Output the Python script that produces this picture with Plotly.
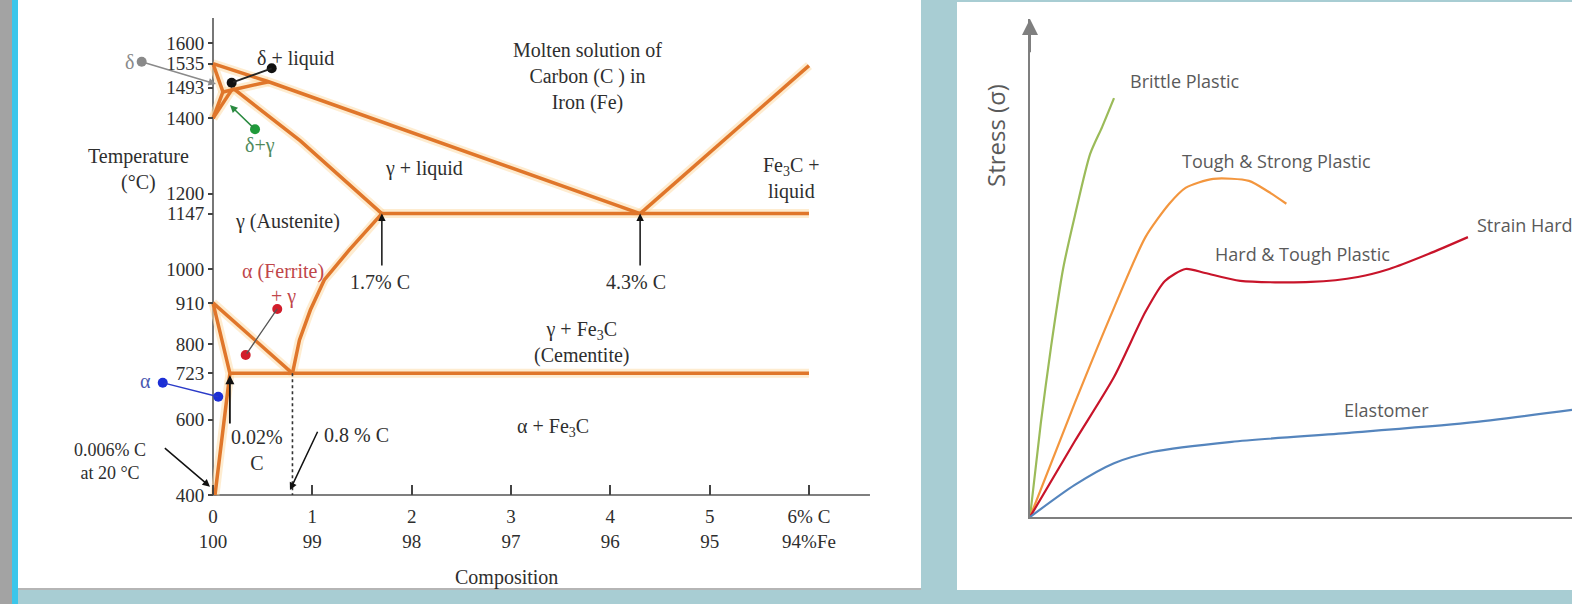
import plotly.graph_objects as go

W, H = 1572, 604

# ---------------- Left panel: Fe–C phase diagram ----------------
temp_tick_labels = ["400", "600", "723", "800", "910", "1000", "1147", "1200", "1400", "1493", "1535", "1600"]
temp_tick_pos = [400, 600, 723, 800, 910, 1000, 1147, 1200, 1400, 1481, 1545, 1600]  # as placed in the picture
comp_ticks = [0, 1, 2, 3, 4, 5, 6]
comp_ticktext = ["0<br>100", "1<br>99", "2<br>98", "3<br>97", "4<br>96", "5<br>95", "6% C<br>94%Fe"]

temp_axis_x = [0, 0]
temp_axis_y = [400, 1666]
comp_axis_x = [0, 6.614]
comp_axis_y = [400, 400]

liquidus_x = [0, 0.56, 4.3]
liquidus_y = [1545, 1497, 1147]
delta_solidus_x = [0, 0.1]
delta_solidus_y = [1545, 1470]
peritectic_x = [0.1, 0.56]
peritectic_y = [1470, 1497]
delta_low_x = [0, 0.1]
delta_low_y = [1400, 1470]
gamma_delta_x = [0, 0.2]
gamma_delta_y = [1400, 1480]
gamma_solidus_x = [0.2, 0.88, 1.7]
gamma_solidus_y = [1480, 1340, 1147]
eutectic_x = [1.7, 6]
eutectic_y = [1147, 1147]
fe3c_liquidus_x = [4.3, 6]
fe3c_liquidus_y = [1147, 1540]
acm_x = [1.7, 1.37, 1.12, 0.98, 0.87, 0.8]
acm_y = [1147, 1050, 971, 891, 811, 723]
a3_x = [0, 0.8]
a3_y = [910, 723]
ferrite_x = [0, 0.17, 0.02]
ferrite_y = [910, 723, 400]
eutectoid_x = [0.17, 6]
eutectoid_y = [723, 723]

phase_lines = [
    (liquidus_x, liquidus_y), (delta_solidus_x, delta_solidus_y),
    (peritectic_x, peritectic_y), (delta_low_x, delta_low_y),
    (gamma_delta_x, gamma_delta_y), (gamma_solidus_x, gamma_solidus_y),
    (eutectic_x, eutectic_y), (fe3c_liquidus_x, fe3c_liquidus_y),
    (acm_x, acm_y), (a3_x, a3_y), (ferrite_x, ferrite_y),
    (eutectoid_x, eutectoid_y),
]

eutectoid_dash_x = [0.8, 0.8]
eutectoid_dash_y = [723, 400]

# marker dots (composition %C, temperature °C)
delta_dot = ([-0.718], [1550])
black_dots = ([0.188, 0.591], [1494.5, 1532.7])
green_dot = ([0.423], [1370.8])
red_dots = ([0.647, 0.329], [893.8, 771.6])
blue_dots = ([-0.506, 0.053], [698, 661])

# ---------------- Right panel: stress–strain curves ----------------
brittle_strain = [0, 2.0, 3.9, 6.1, 8.3, 11.1, 13.3, 15.5]
brittle_stress = [0, 18.9, 34.3, 49.8, 60.6, 72.9, 78.3, 84.1]
tough_strain = [0, 8.2, 15.5, 21.3, 25.7, 28.7, 33.8, 40.4, 44.0, 47.3]
tough_stress = [0, 22.7, 42.0, 56.2, 62.9, 66.1, 67.9, 67.5, 65.3, 62.9]
hard_strain = [0, 8.2, 15.5, 21.3, 24.9, 28.7, 32.3, 38.8, 51.8, 60.5, 66.3, 73.5, 80.8]
hard_stress = [0, 15.1, 28.1, 41.2, 47.4, 49.8, 49.0, 47.4, 47.2, 48.2, 49.8, 52.8, 56.2]
elast_strain = [0, 8.2, 15.5, 22.7, 37.2, 58.9, 80.6, 100]
elast_stress = [0, 6.4, 10.8, 13.1, 15.1, 16.9, 18.9, 21.5]

# ---------------- Figure ----------------
def px(x):
    return x / W

def py(y):
    return 1 - y / H

TEAL = "#a8cdd3"
ORANGE = "#e0762a"
SERIF = "Liberation Serif"
SANS = "Open Sans"
TXT = "#2e2e2e"

fig = go.Figure()

# axis lines of the phase diagram
for xs, ys in [(temp_axis_x, temp_axis_y), (comp_axis_x, comp_axis_y)]:
    fig.add_trace(go.Scatter(x=xs, y=ys, mode="lines", xaxis="x", yaxis="y",
                             line=dict(color="#555", width=1.6), hoverinfo="skip",
                             showlegend=False))

for xs, ys in phase_lines:
    fig.add_trace(go.Scatter(x=xs, y=ys, mode="lines", xaxis="x", yaxis="y",
                             line=dict(color="rgba(253,220,170,0.55)", width=9),
                             hoverinfo="skip", showlegend=False))
for xs, ys in phase_lines:
    fig.add_trace(go.Scatter(x=xs, y=ys, mode="lines", xaxis="x", yaxis="y",
                             line=dict(color=ORANGE, width=3.5),
                             hoverinfo="skip", showlegend=False))

fig.add_trace(go.Scatter(x=eutectoid_dash_x, y=eutectoid_dash_y, mode="lines",
                         xaxis="x", yaxis="y", line=dict(color="#333", width=1.6, dash="dot"),
                         showlegend=False))

ann = []

def label(x, y, text, size=20, color=TXT, font=SERIF, xref="x", yref="y", **kw):
    kw.setdefault("xanchor", "center")
    kw.setdefault("yanchor", "middle")
    ann.append(dict(x=x, y=y, xref=xref, yref=yref, text=text, showarrow=False,
                    font=dict(family=font, size=size, color=color), **kw))

def arrow(x, y, ax, ay, color="#111", head=2, width=1.5, size=1.0):
    ann.append(dict(x=x, y=y, ax=ax, ay=ay, xref="x", yref="y", axref="x", ayref="y",
                    text="", showarrow=True, arrowhead=head, arrowsize=size,
                    arrowwidth=width, arrowcolor=color))

# left panel connectors & arrows (drawn before dots)
arrow(0.03, 1491, -0.718, 1550, color="#8a8a8a", head=2, width=1.5)
arrow(0.591, 1532.7, 0.188, 1494.5, color="#222", head=0, width=1.8)
arrow(0.171, 1435, 0.423, 1370.8, color="#2a8a40", head=2, width=1.5)
arrow(0.647, 893.8, 0.329, 771.6, color="#555", head=0, width=1.3)
arrow(0.053, 661, -0.506, 698, color="#2a3ac8", head=0, width=1.5)
arrow(1.7, 1147, 1.7, 1005, color="#111", head=2, width=1.5)
arrow(4.3, 1147, 4.3, 1005, color="#111", head=2, width=1.5)
arrow(0.17, 718, 0.17, 586, color="#111", head=2, width=1.8)
arrow(0.775, 413, 1.06, 572, color="#111", head=2, width=1.5)
arrow(-0.03, 422, -0.5, 528, color="#111", head=2, width=1.5)

for (xs, ys), col in [(delta_dot, "#8a8a8a"), (black_dots, "#111111"),
                      (green_dot, "#1f9a3a"), (red_dots, "#d21e2b"),
                      (blue_dots, "#1c2fd6")]:
    fig.add_trace(go.Scatter(x=xs, y=ys, mode="markers", xaxis="x", yaxis="y",
                             marker=dict(color=col, size=10), cliponaxis=False,
                             showlegend=False))

# right panel curves
for xs, ys, col in [(brittle_strain, brittle_stress, "#9bbb59"),
                    (tough_strain, tough_stress, "#f3963e"),
                    (hard_strain, hard_stress, "#c8142a"),
                    (elast_strain, elast_stress, "#5585bd")]:
    fig.add_trace(go.Scatter(x=xs, y=ys, mode="lines", xaxis="x2", yaxis="y2",
                             line=dict(color=col, width=2.2, shape="spline", smoothing=0.7),
                             showlegend=False))

shapes = [
    dict(type="rect", xref="paper", yref="paper", x0=0, x1=px(12), y0=0, y1=1,
         fillcolor="#a3a3a3", line_width=0, layer="below"),
    dict(type="rect", xref="paper", yref="paper", x0=px(12), x1=px(18), y0=0, y1=1,
         fillcolor="#3cc6ea", line_width=0, layer="below"),
    dict(type="rect", xref="paper", yref="paper", x0=px(18), x1=px(921), y0=py(589), y1=1,
         fillcolor="white", line_width=0, layer="below"),
    dict(type="line", xref="paper", yref="paper", x0=px(18), x1=px(921), y0=py(589), y1=py(589),
         line=dict(color="#b5b5b5", width=2), layer="below"),
    dict(type="rect", xref="paper", yref="paper", x0=px(957), x1=1, y0=py(590), y1=py(2),
         fillcolor="white", line_width=0, layer="below"),
]

# left panel labels
label(3.775, 1510, "Molten solution of<br>Carbon (C ) in<br>Iron (Fe)")
label(5.82, 1241, "Fe<sub>3</sub>C +<br>liquid")
label(2.124, 1268, "γ + liquid")
label(0.826, 1560, "δ + liquid")
label(0.473, 1329, "δ+γ", color="#4f8a5c")
label(0.755, 1127, "γ (Austenite)")
label(0.705, 992, "α (Ferrite)", color="#c0464a")
label(0.705, 926, "+ γ", color="#c0464a")
label(1.68, 965, "1.7% C")
label(4.26, 965, "4.3% C")
label(3.715, 806, "γ + Fe<sub>3</sub>C<br>(Cementite)")
label(3.42, 580, "α + Fe<sub>3</sub>C")
label(0.443, 519, "0.02%<br>C")
label(1.44, 559, "0.8 % C")
label(-1.037, 488, "0.006% C<br>at 20 °C", size=18)
label(-0.755, 1263, "Temperature<br>(°C)")
label(-0.836, 1550, "δ", color="#8a8a8a")
label(-0.675, 703, "α", color="#4a58b0")
label(2.95, 180, "Composition")

# right panel labels
GREY = "#5a5a5a"
RS = 18
label(px(1185), py(81), "Brittle Plastic", size=RS, color=GREY, font=SANS, xref="paper", yref="paper")
label(px(1276), py(161), "Tough & Strong Plastic", size=RS, color=GREY, font=SANS, xref="paper", yref="paper")
label(px(1302), py(254), "Hard & Tough Plastic", size=RS, color=GREY, font=SANS, xref="paper", yref="paper")
label(px(1475), py(225), "Strain Hardening", size=RS, color=GREY, font=SANS, xref="paper", yref="paper",
      xanchor="left")
label(px(1386), py(410), "Elastomer", size=RS, color=GREY, font=SANS, xref="paper", yref="paper")
label(px(996), py(135), "Stress (σ)", size=24, color=GREY, font=SANS, xref="paper", yref="paper",
      textangle=-90)

# y-axis arrow head on right panel
ann.append(dict(x=0, y=100, ax=0, ay=93, xref="x2", yref="y2", axref="x2", ayref="y2",
                text="", showarrow=True, arrowhead=2, arrowsize=1.6, arrowwidth=2,
                arrowcolor="#7f7f7f"))

x0_val = (18 - 213) / 99.33
x1_val = (921 - 213) / 99.33
y0_val = 400 - (589 - 495) / 0.3767
y1_val = 400 + 495 / 0.3767

fig.update_layout(
    width=W, height=H, margin=dict(l=0, r=0, t=0, b=0),
    paper_bgcolor=TEAL, plot_bgcolor="rgba(0,0,0,0)",
    shapes=shapes, annotations=ann, showlegend=False,
    xaxis=dict(domain=[px(18), px(921)], range=[x0_val, x1_val], anchor="free",
               position=py(495), showgrid=False, zeroline=False, showline=False,
               tickvals=comp_ticks, ticktext=comp_ticktext, ticks="inside", ticklen=10,
               tickcolor="#444", tickwidth=1.5, ticklabelstandoff=8,
               tickfont=dict(family=SERIF, size=19, color=TXT)),
    yaxis=dict(domain=[py(589), 1.0], range=[y0_val, y1_val], anchor="free",
               position=px(213), showgrid=False, zeroline=False, showline=False,
               tickvals=temp_tick_pos, ticktext=temp_tick_labels,
               ticks="outside", ticklen=5, tickcolor="#444", tickwidth=1.5,
               tickfont=dict(family=SERIF, size=19, color=TXT)),
    xaxis2=dict(domain=[px(1030), 1.0], range=[0, 100], anchor="y2",
                showgrid=False, zeroline=False, showline=True, linecolor="#7f7f7f",
                linewidth=2, showticklabels=False, ticks=""),
    yaxis2=dict(domain=[py(517), py(19)], range=[0, 100], anchor="x2",
                showgrid=False, zeroline=False, showline=True, linecolor="#7f7f7f",
                linewidth=2, showticklabels=False, ticks=""),
)

fig.write_html("out.html", config={"displayModeBar": False},
               post_script="document.body.style.margin='0';document.body.style.overflow='hidden';")
